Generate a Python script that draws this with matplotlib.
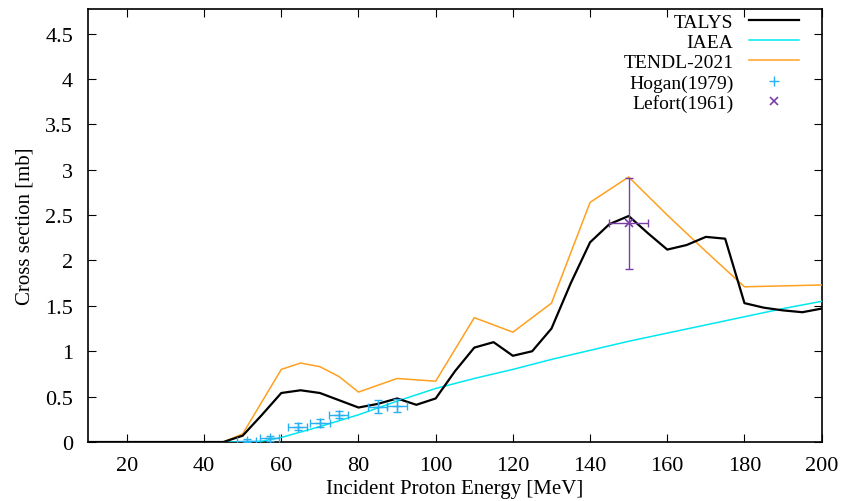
import matplotlib
matplotlib.use('Agg')
import matplotlib.pyplot as plt

plt.rcParams['font.family'] = ['Liberation Serif', 'DejaVu Serif']

# TALYS
talys_e = [10, 15, 20, 25, 30, 35, 40, 45, 50, 55, 60, 65, 70, 75, 80, 85, 90, 95, 100,
           105, 110, 115, 120, 125, 130, 135, 140, 145, 150, 155, 160, 165, 170, 175,
           180, 185, 190, 195, 200]
talys_xs = [0, 0, 0, 0, 0, 0, 0, 0, 0.07, 0.30, 0.54, 0.57, 0.54, 0.46, 0.38, 0.42, 0.48, 0.41, 0.48,
            0.78, 1.04, 1.10, 0.95, 1.00, 1.25, 1.75, 2.20, 2.40, 2.49, 2.30, 2.12, 2.17, 2.26, 2.24,
            1.53, 1.48, 1.45, 1.43, 1.47]

# IAEA
iaea_e = [30, 40, 50, 55, 60, 70, 80, 90, 100, 110, 120, 130, 140, 150, 160, 170, 180, 190, 200]
iaea_xs = [0, 0, 0, 0.01, 0.05, 0.17, 0.30, 0.45, 0.59, 0.70, 0.80, 0.91, 1.01, 1.11, 1.20,
           1.29, 1.38, 1.47, 1.55]

# TENDL-2021
tendl_e = [30, 40, 45, 50, 60, 65, 70, 75, 80, 90, 100, 110, 120, 130, 140, 150, 160, 170, 180, 190, 200]
tendl_xs = [0, 0, 0, 0.09, 0.80, 0.87, 0.83, 0.72, 0.55, 0.70, 0.67, 1.37, 1.21, 1.53, 2.64, 2.92,
            2.50, 2.10, 1.71, 1.72, 1.73]

# Hogan(1979)
hogan_e = [51.0, 57.0, 64.2, 70.0, 74.9, 85.0, 90.0]
hogan_xs = [0.015, 0.04, 0.17, 0.21, 0.30, 0.39, 0.40]
hogan_de = [2.5, 2.5, 2.5, 2.5, 2.5, 2.5, 2.5]
hogan_dxs = [0.02, 0.03, 0.04, 0.04, 0.04, 0.07, 0.07]

# Lefort(1961)
lefort_e = [150]
lefort_xs = [2.41]
lefort_de = [5]
lefort_dxs = [0.5]

fig, ax = plt.subplots(figsize=(8.41, 5.02), dpi=100)
fig.subplots_adjust(left=0.105, right=0.977, top=0.98, bottom=0.1175)

ax.plot(talys_e, talys_xs, color='black', lw=1.6, label='TALYS', zorder=4)
ax.plot(iaea_e, iaea_xs, color='#00e8f0', lw=1.1, label='IAEA', zorder=3)
ax.plot(tendl_e, tendl_xs, color='#ffa020', lw=1.1, label='TENDL-2021', zorder=3)

ax.errorbar(hogan_e, hogan_xs, xerr=hogan_de, yerr=hogan_dxs, fmt='none',
            ecolor='#2ab0f0', elinewidth=1.0, capsize=3, zorder=5)
ax.plot(hogan_e, hogan_xs, '+', color='#2ab0f0', ms=7, mew=1.0, ls='none',
        label='Hogan(1979)', zorder=5)
ax.errorbar(lefort_e, lefort_xs, xerr=lefort_de, yerr=lefort_dxs, fmt='none',
            ecolor='#7a3fa6', elinewidth=1.0, capsize=3, zorder=6)
ax.plot(lefort_e, lefort_xs, 'x', color='#7a3fa6', ms=6, mew=1.2, ls='none',
        label='Lefort(1961)', zorder=6)

ax.set_xlim(10, 200)
ax.set_ylim(0, 4.77)
ax.set_xticks(range(20, 201, 20))
ax.set_yticks([0, 0.5, 1, 1.5, 2, 2.5, 3, 3.5, 4, 4.5])
ax.set_yticklabels(['0', '0.5', '1', '1.5', '2', '2.5', '3', '3.5', '4', '4.5'])
ax.tick_params(direction='in', top=True, right=True, length=6, labelsize=16)
ax.tick_params(axis='x', pad=10)
ax.tick_params(axis='y', pad=11)
for s in ax.spines.values():
    s.set_linewidth(1.2)

ax.set_xlabel('Incident Proton Energy [MeV]', fontsize=15, labelpad=3)
ax.set_ylabel('Cross section [mb]', fontsize=15, labelpad=8)

ax.legend(loc='upper right', frameon=False, markerfirst=False, fontsize=14,
          handlelength=2.6, labelspacing=0.14, borderpad=0.2, borderaxespad=0,
          bbox_to_anchor=(0.975, 1.0))

fig.savefig('out.png', dpi=100)
